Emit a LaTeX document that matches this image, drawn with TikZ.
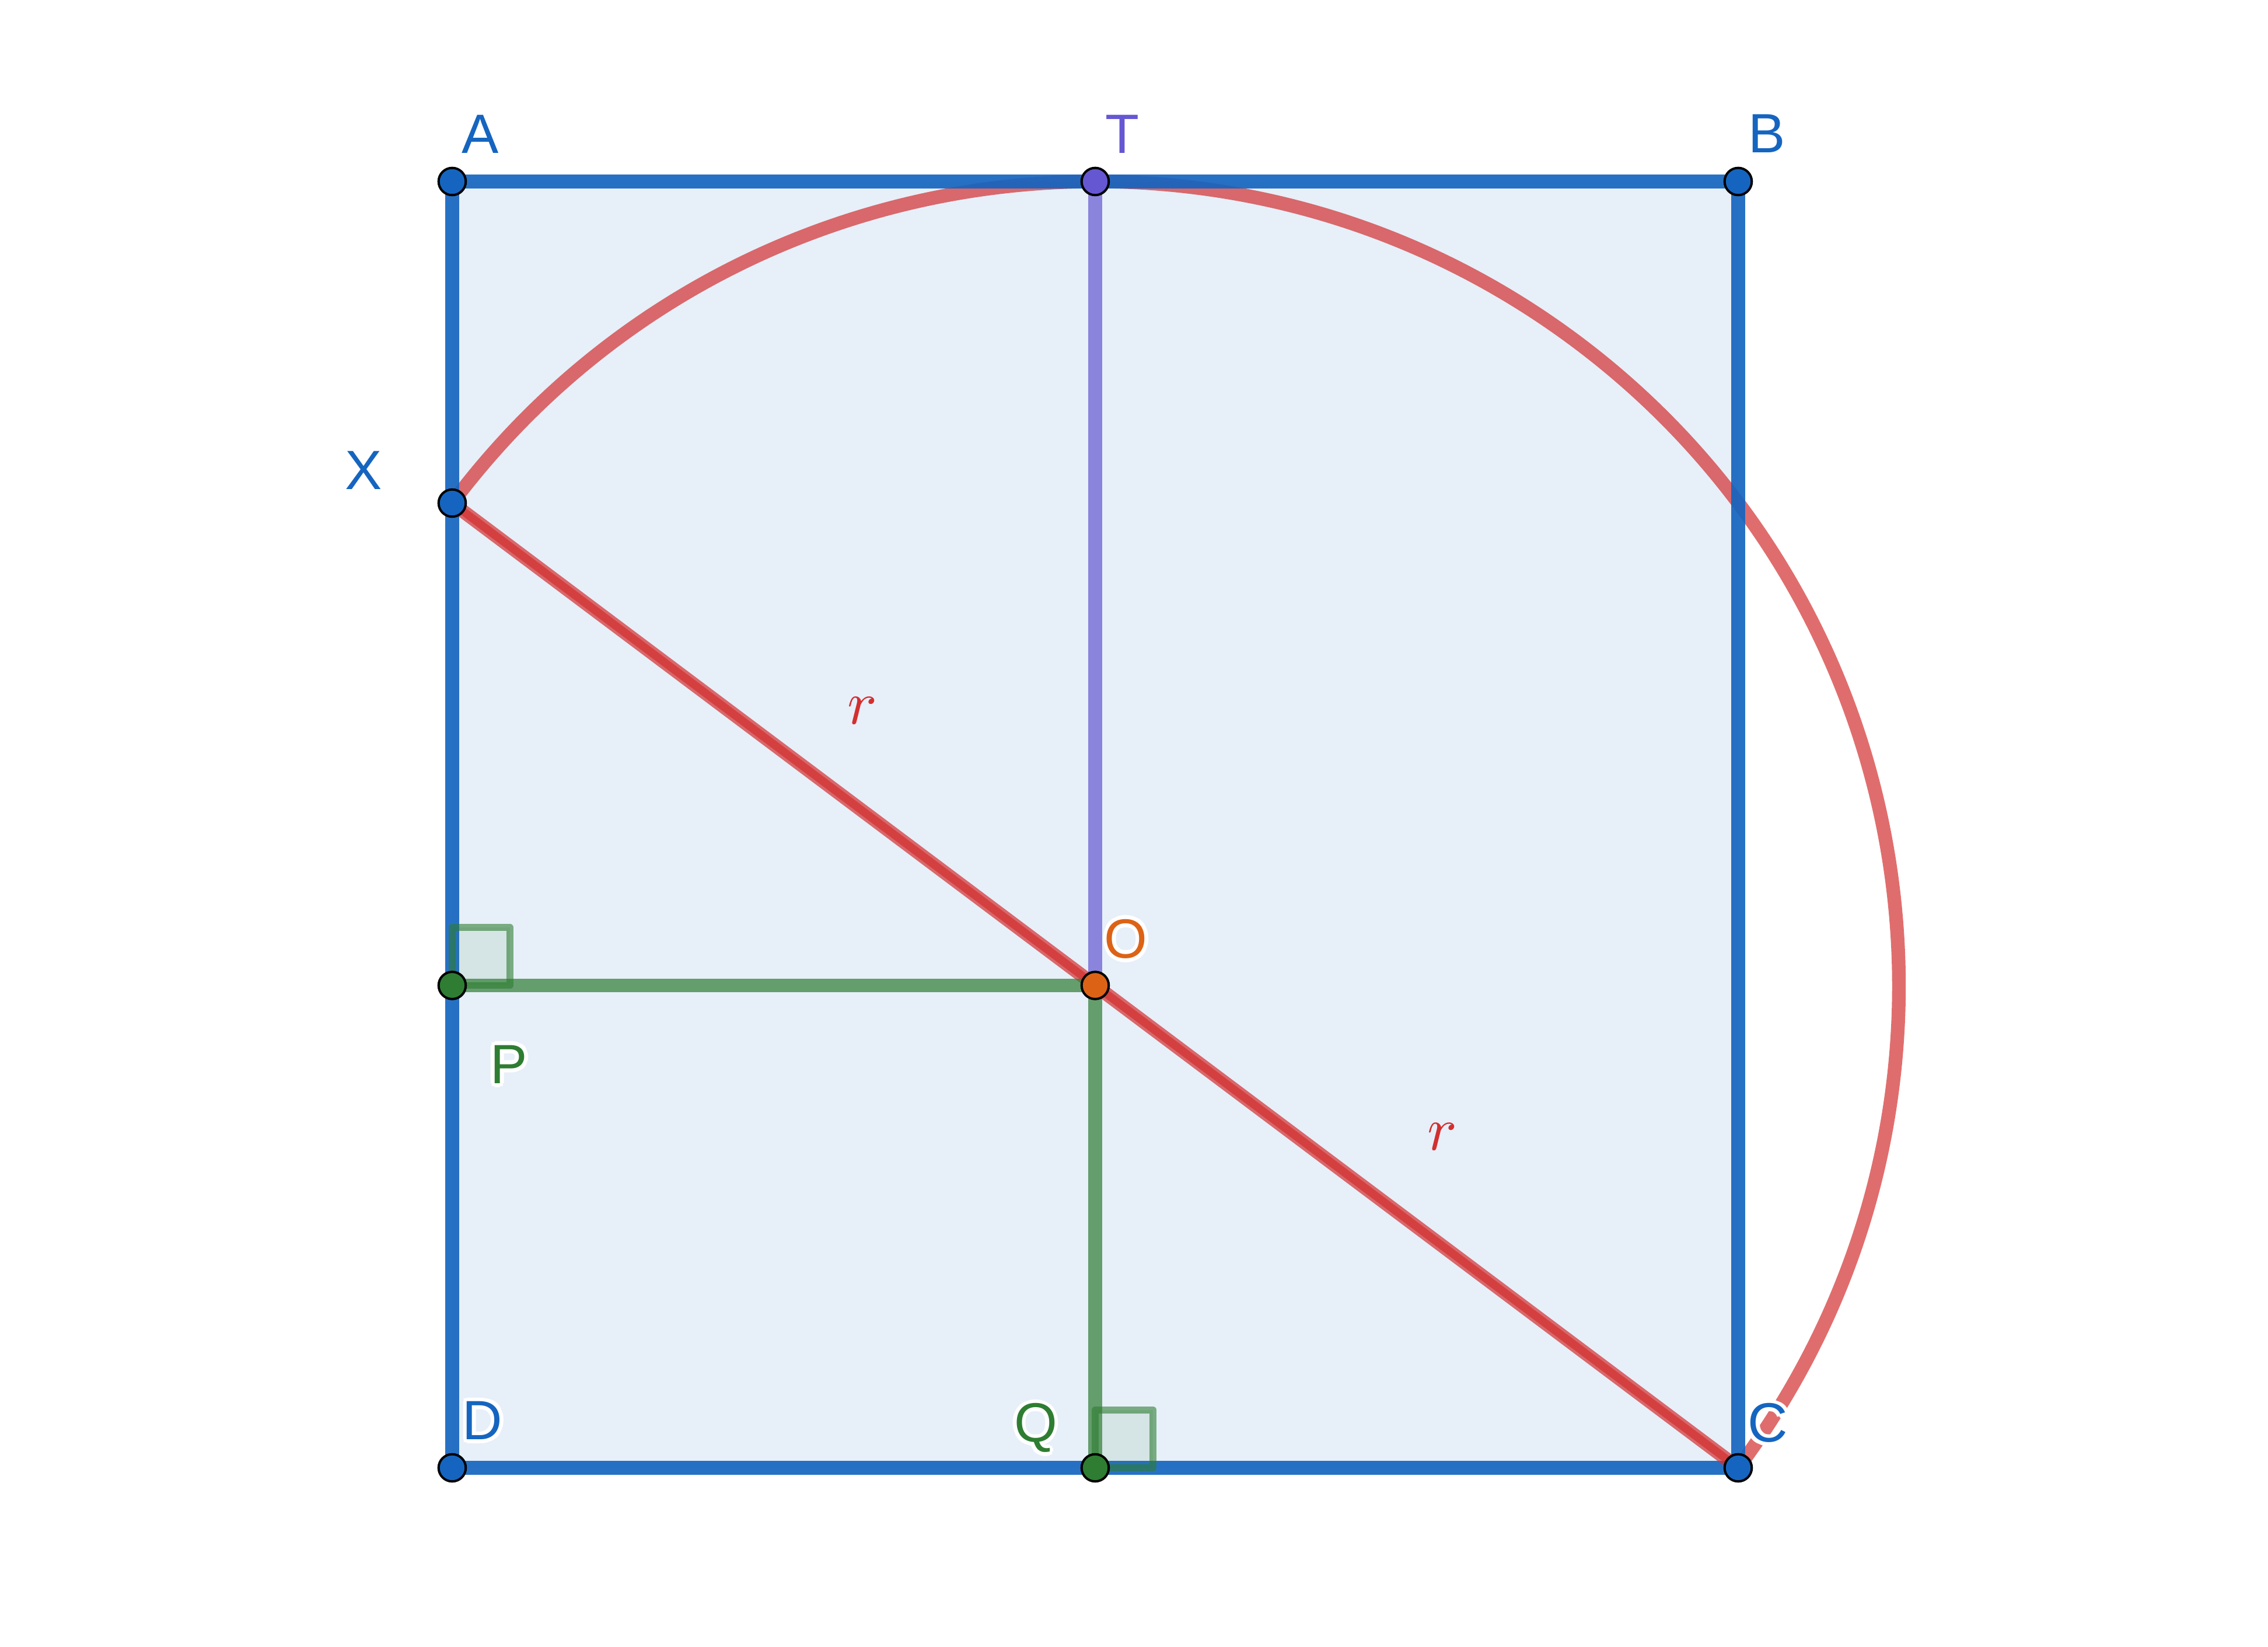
\documentclass[tikz,border=0pt]{standalone}
\usepackage{fontspec}
\usepackage{tikz}
\usetikzlibrary{positioning}
\newfontfamily\lblfont{Liberation Sans}
\definecolor{ggblue}{HTML}{1565C0}
\definecolor{ggred}{HTML}{D32F2F}
\definecolor{gggreen}{HTML}{2E7D32}
\definecolor{ggviolet}{HTML}{6557D2}
\definecolor{ggorange}{HTML}{DC6316}
% white outline behind a label
\newcommand{\halocopy}[3]{\rlap{\hspace*{#1}\raisebox{#2}{\textcolor{white}{#3}}}}
\newcommand{\halotext}[1]{%
  \halocopy{0.7pt}{0pt}{#1}\halocopy{-0.7pt}{0pt}{#1}%
  \halocopy{0pt}{0.7pt}{#1}\halocopy{0pt}{-0.7pt}{#1}%
  \halocopy{0.5pt}{0.5pt}{#1}\halocopy{-0.5pt}{0.5pt}{#1}%
  \halocopy{0.5pt}{-0.5pt}{#1}\halocopy{-0.5pt}{-0.5pt}{#1}%
  #1}
\tikzset{
  edge/.style  = {line width=0.085cm},
  sq/.style    = {edge, draw=ggblue, draw opacity=0.92, fill=ggblue, fill opacity=0.1},
  circ/.style  = {edge, ggred, opacity=0.7},
  diag/.style  = {ggred, opacity=0.7},
  rad/.style   = {edge, ggviolet, opacity=0.7},
  perp/.style  = {edge, gggreen, opacity=0.7},
  rmark/.style = {line width=0.043cm, line join=round, draw=gggreen, draw opacity=0.6,
                  fill=gggreen, fill opacity=0.1},
  pt/.style    = {draw=black, line width=0.0145cm},
  lbl/.style   = {inner sep=0pt, text height=7pt, text depth=0pt,
                  font=\lblfont\fontsize{9.8}{11}\selectfont},
  rlbl/.style  = {inner sep=0pt, text=ggred, font=\fontsize{11}{13}\selectfont},
}
\begin{document}
\begin{tikzpicture}
  \useasboundingbox (-2.813,-1.114) rectangle (11.296,9.129);
  \coordinate (A) at (0,8);
  \coordinate (T) at (4,8);
  \coordinate (B) at (8,8);
  \coordinate (X) at (0,6);
  \coordinate (P) at (0,3);
  \coordinate (O) at (4,3);
  \coordinate (D) at (0,0);
  \coordinate (Q) at (4,0);
  \coordinate (C) at (8,0);

  \fill[ggblue, opacity=0.1] (A) -- (B) -- (C) -- (D) -- cycle;
  \draw[circ] (X) arc[start angle=143.1301, end angle=-36.8699, radius=5];
  \draw[edge, ggblue, opacity=0.92] (A) -- (B) -- (C) -- (D) -- cycle;
  \draw[diag, line width=0.085cm] (X) -- (C);
  \draw[diag, line width=0.05cm] (X) -- (O) -- (C);
  \draw[rad] (T) -- (O);
  \draw[perp] (P) -- (O);
  \draw[perp] (O) -- (Q);
  \draw[rmark] (P) rectangle ++(0.36,0.36);
  \draw[rmark] (Q) rectangle ++(0.36,0.36);

  \foreach \p/\c in {A/ggblue, B/ggblue, C/ggblue, D/ggblue, X/ggblue,
                     T/ggviolet, O/ggorange, P/gggreen, Q/gggreen}
    \draw[pt, fill=\c] (\p) circle (0.0846);

  \node[lbl, text=ggblue, xshift=1.74mm, yshift=2.98mm] (lA) at (A) {\halotext{A}};
  \node[lbl, text=ggviolet, xshift=1.67mm, yshift=2.98mm] (lT) at (T) {\halotext{T}};
  \node[lbl, text=ggblue, xshift=1.78mm, yshift=3.01mm] (lB) at (B) {\halotext{B}};
  \node[lbl, text=ggblue, xshift=-5.52mm, yshift=2.07mm] (lX) at (X) {\halotext{X}};
  \node[lbl, text=gggreen, xshift=3.52mm, yshift=-4.86mm] (lP) at (P) {\halotext{P}};
  \node[lbl, text=ggorange, xshift=1.92mm, yshift=2.94mm] (lO) at (O) {\halotext{O}};
  \node[lbl, text=gggreen, xshift=-3.70mm, yshift=2.83mm] (lQ) at (Q) {\halotext{Q}};
  \node[lbl, text=ggblue, xshift=1.85mm, yshift=2.83mm] (lC) at (C) {\halotext{C}};
  \node[lbl, text=ggblue, xshift=1.89mm, yshift=2.98mm] (lD) at (D) {\halotext{D}};

  \node[rlbl] (r1) at (2.552,4.708) {$r$};
  \node[rlbl] (r2) at (6.160,2.058) {$r$};
\end{tikzpicture}
\end{document}
